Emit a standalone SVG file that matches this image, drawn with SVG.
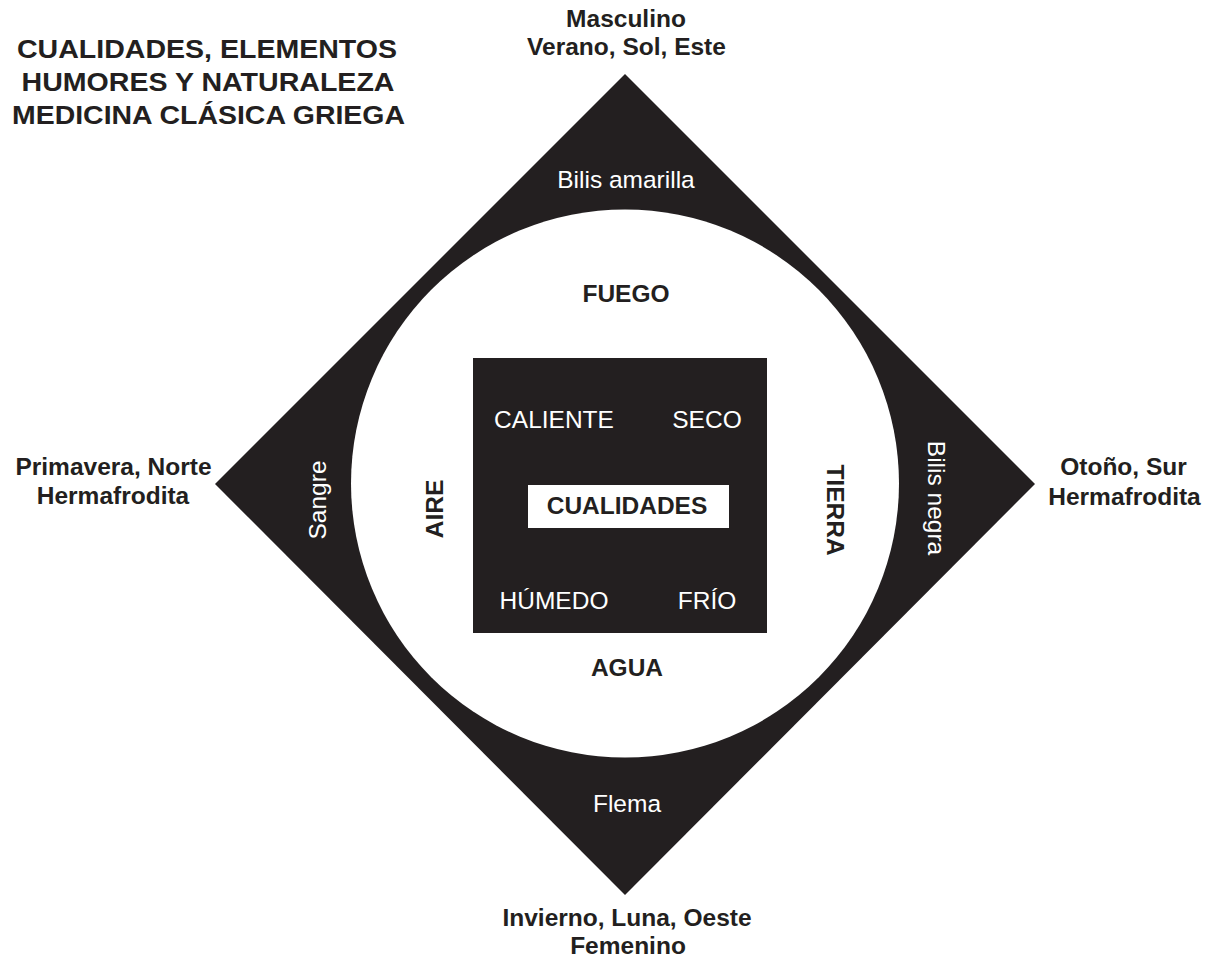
<svg xmlns="http://www.w3.org/2000/svg" width="1207" height="957" viewBox="0 0 1207 957">
<style>
.b{font-family:"Liberation Sans",Arial,Helvetica,sans-serif;font-weight:bold;fill:#231f20;text-anchor:middle;font-size:24.5px}
.w{font-family:"Liberation Sans",Arial,Helvetica,sans-serif;fill:#ffffff;text-anchor:middle;font-size:24.5px}
.t{font-family:"Liberation Sans",Arial,Helvetica,sans-serif;font-weight:bold;fill:#231f20;text-anchor:middle;font-size:26px}
.dark{fill:#231f20}
</style>
<rect width="1207" height="957" fill="#ffffff"/>
<g id="title">
<text class="t" x="207" y="58" textLength="380" lengthAdjust="spacingAndGlyphs">CUALIDADES, ELEMENTOS</text>
<text class="t" x="208" y="91" textLength="373" lengthAdjust="spacingAndGlyphs">HUMORES Y NATURALEZA</text>
<text class="t" x="208.5" y="124" textLength="393" lengthAdjust="spacingAndGlyphs">MEDICINA CLÁSICA GRIEGA</text>
</g>
<g id="diamond">
<polygon class="dark" points="625,74 1035,484 625,895 215,484"/>
</g>
<g id="circle">
<circle cx="625" cy="483.5" r="274" fill="#ffffff"/>
</g>
<g id="square">
<rect class="dark" x="473" y="358" width="294" height="275"/>
<text class="w" x="554" y="428">CALIENTE</text>
<text class="w" x="707" y="428">SECO</text>
<text class="w" x="554" y="609">HÚMEDO</text>
<text class="w" x="707" y="609">FRÍO</text>
</g>
<g id="cualidades">
<rect x="528" y="485" width="201" height="43" fill="#ffffff"/>
<text class="b" x="627" y="514">CUALIDADES</text>
</g>
<g id="elements">
<text class="b" x="626" y="302">FUEGO</text>
<text class="b" x="627" y="676">AGUA</text>
<text class="b" transform="translate(443,509) rotate(-90)">AIRE</text>
<text class="b" transform="translate(827,510) rotate(90)">TIERRA</text>
</g>
<g id="humors">
<text class="w" x="626" y="188">Bilis amarilla</text>
<text class="w" x="627" y="812">Flema</text>
<text class="w" transform="translate(326,500) rotate(-90)">Sangre</text>
<text class="w" transform="translate(928,498) rotate(90)">Bilis negra</text>
</g>
<g id="top-label">
<text class="b" x="626" y="27">Masculino</text>
<text class="b" x="626.5" y="55">Verano, Sol, Este</text>
</g>
<g id="left-label">
<text class="b" x="113.5" y="475">Primavera, Norte</text>
<text class="b" x="113" y="504">Hermafrodita</text>
</g>
<g id="right-label">
<text class="b" x="1123.5" y="475">Otoño, Sur</text>
<text class="b" x="1124.5" y="505">Hermafrodita</text>
</g>
<g id="bottom-label">
<text class="b" x="627" y="926">Invierno, Luna, Oeste</text>
<text class="b" x="628" y="954">Femenino</text>
</g>
</svg>
